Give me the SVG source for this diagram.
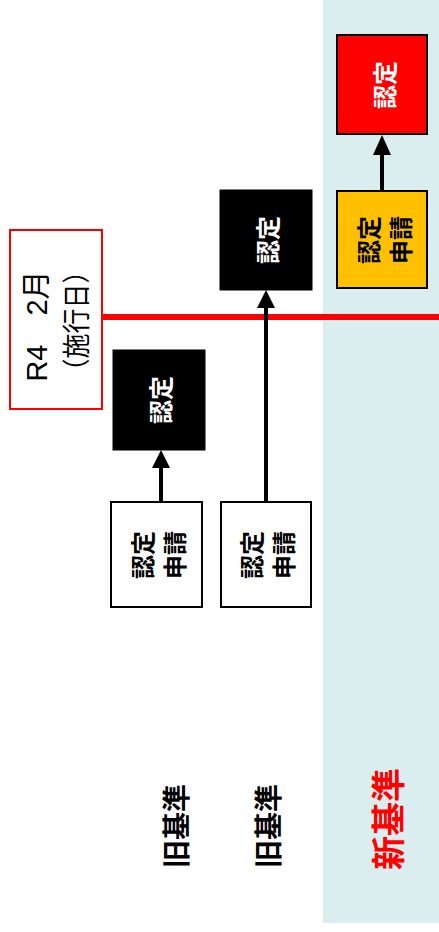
<svg xmlns="http://www.w3.org/2000/svg" width="439" height="932" viewBox="0 0 439 932">
  <defs>
    <style>
      .t { font-family: "Noto Sans CJK JP", "Liberation Sans", sans-serif; text-anchor: middle; dominant-baseline: central; }
      .lat { font-family: "Liberation Sans", "Noto Sans CJK JP", sans-serif; }
      .box { font-size: 24px; font-weight: bold; }
      .lbl { font-weight: bold; }
      .conn { stroke: #000; stroke-width: 4; fill: none; }
      .head { fill: #000; }
    </style>
  </defs>
  <rect id="background" x="0" y="0" width="439" height="932" fill="#FFFFFF"/>
  <rect id="new-area" x="323" y="0" width="116" height="923" fill="#DAEEF0"/>

  <g id="connectors">
    <line x1="102" y1="317" x2="439" y2="317" stroke="#FF0000" stroke-width="6"/>
    <line class="conn" x1="161" y1="502" x2="161" y2="466"/>
    <polygon class="head" points="161,450 152,468 170,468"/>
    <line class="conn" x1="266" y1="502" x2="266" y2="306"/>
    <polygon class="head" points="266,290 257,308 275,308"/>
    <line class="conn" x1="382" y1="191" x2="382" y2="152"/>
    <polygon class="head" points="382,135 373,155 391,155"/>
  </g>

  <g id="date-box">
    <rect x="10" y="230" width="92" height="179" fill="#FFFFFF" stroke="#FF0000" stroke-width="2"/>
    <g transform="translate(56,323) rotate(-90)">
      <text class="t lat" x="-3" y="-19" font-size="29">R4　2月</text>
      <text class="t" x="2" y="19" font-size="28" textLength="125" lengthAdjust="spacingAndGlyphs">（施行日）</text>
    </g>
  </g>

  <g id="old1-apply">
    <rect x="111" y="502" width="91" height="105" fill="#FFFFFF" stroke="#000" stroke-width="2"/>
    <g transform="translate(157,555) rotate(-90)">
      <text class="t box" x="0" y="-16" fill="#000">認定</text>
      <text class="t box" x="0" y="16" fill="#000">申請</text>
    </g>
  </g>

  <g id="old1-cert">
    <rect x="113" y="350" width="92" height="100" fill="#000000" stroke="#000" stroke-width="1"/>
    <text class="t box" transform="translate(159,400) rotate(-90)" fill="#FFFFFF">認定</text>
  </g>

  <g id="old2-apply">
    <rect x="221" y="502" width="90" height="105" fill="#FFFFFF" stroke="#000" stroke-width="2"/>
    <g transform="translate(266,555) rotate(-90)">
      <text class="t box" x="0" y="-16" fill="#000">認定</text>
      <text class="t box" x="0" y="16" fill="#000">申請</text>
    </g>
  </g>

  <g id="old2-cert">
    <rect x="220" y="190" width="92" height="100" fill="#000000" stroke="#000" stroke-width="1"/>
    <text class="t box" transform="translate(266,240) rotate(-90)" fill="#FFFFFF">認定</text>
  </g>

  <g id="new-apply">
    <rect x="337" y="191" width="90" height="97" fill="#FFC000" stroke="#000" stroke-width="2"/>
    <g transform="translate(383,240) rotate(-90)">
      <text class="t box" x="0" y="-16" fill="#000">認定</text>
      <text class="t box" x="0" y="16" fill="#000">申請</text>
    </g>
  </g>

  <g id="new-cert">
    <rect x="337" y="35" width="90" height="99" fill="#FF0000" stroke="#000" stroke-width="2"/>
    <text class="t box" transform="translate(383,85) rotate(-90)" fill="#FFFFFF">認定</text>
  </g>

  <g id="label-old1">
    <text class="t lbl" transform="translate(175,826) rotate(-90)" font-size="28" fill="#000">旧基準</text>
  </g>
  <g id="label-old2">
    <text class="t lbl" transform="translate(267,826) rotate(-90)" font-size="28" fill="#000">旧基準</text>
  </g>
  <g id="label-new">
    <text class="t lbl" transform="translate(386,819) rotate(-90)" font-size="34" fill="#FF0000">新基準</text>
  </g>
</svg>
